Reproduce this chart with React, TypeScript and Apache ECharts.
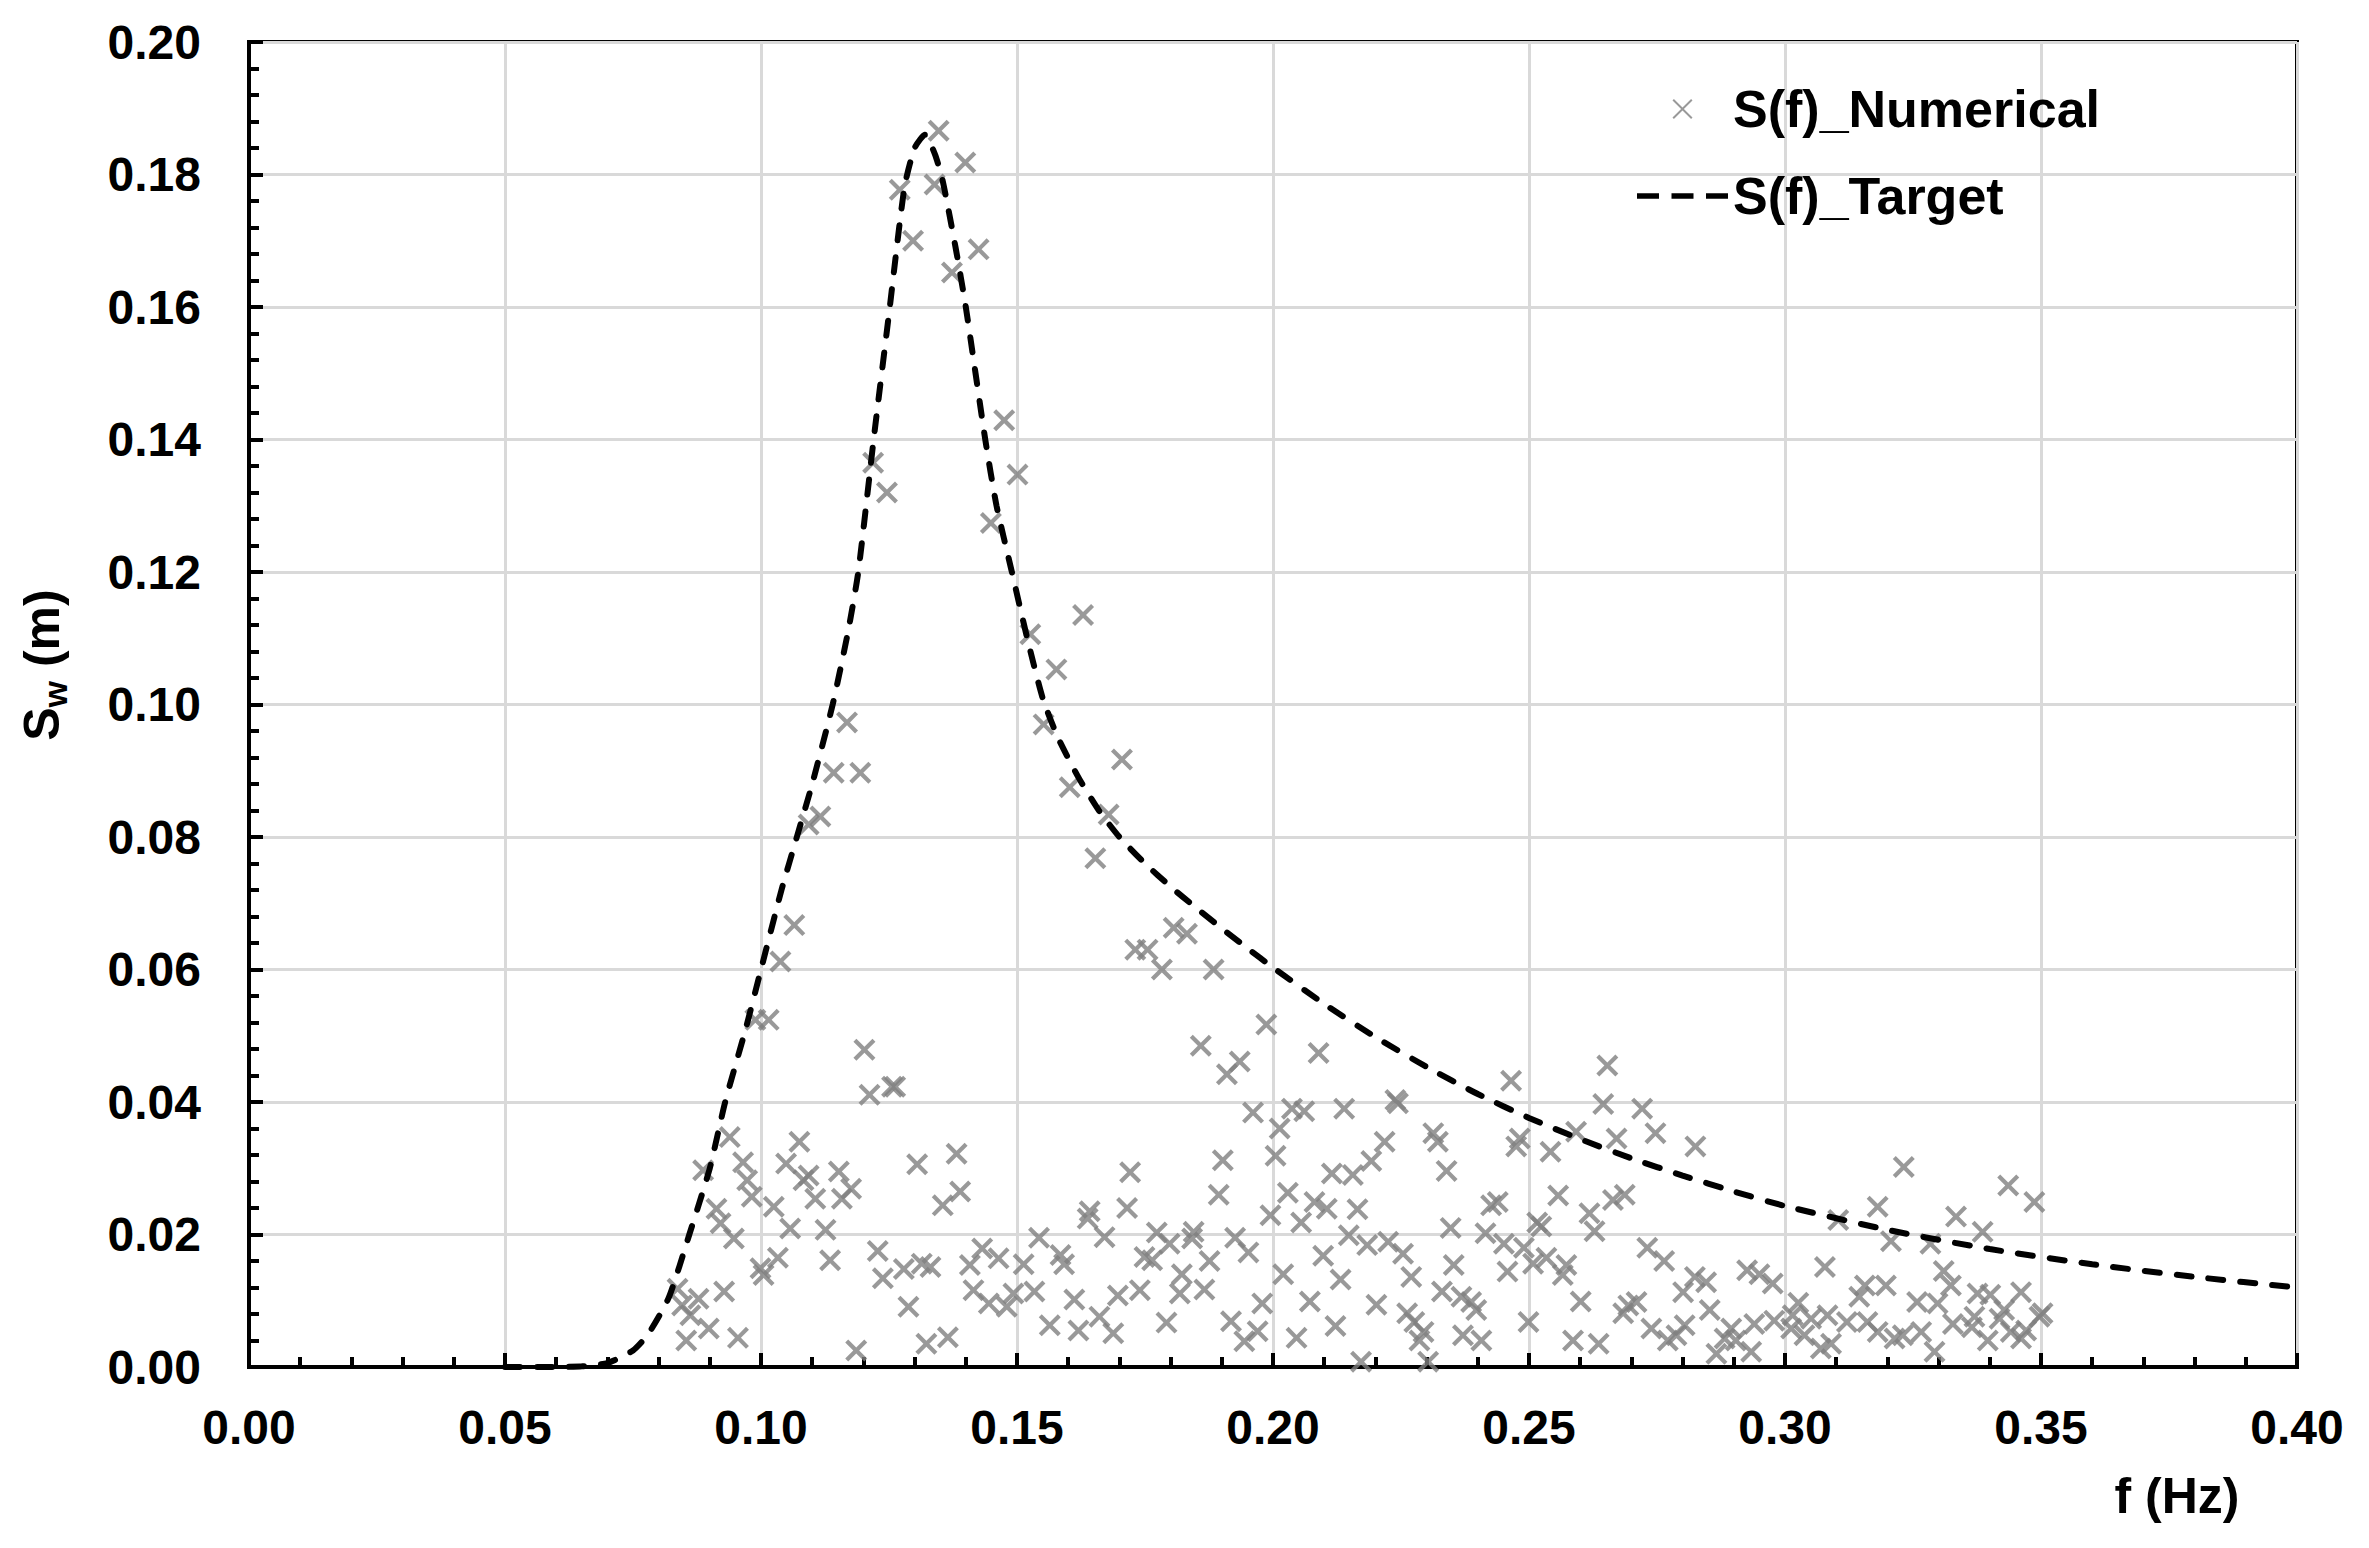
import React, { useEffect, useRef } from 'react';
import * as echarts from 'echarts';

const FONT = '"Liberation Sans", Arial, Helvetica, sans-serif';

// X axis (frequency, Hz) and Y axis (S_w, m) ranges / tick steps
const xRange = [0, 0.4];
const xStep = 0.05;
const yRange = [0, 0.2];
const yStep = 0.02;

const seriesNames = ['S(f)_Numerical', 'S(f)_Target'];

// S(f)_Target (dashed curve)
const targetF = [0.05, 0.06, 0.065, 0.07, 0.075, 0.078, 0.082, 0.086, 0.09, 0.093, 0.097, 0.1, 0.104, 0.107, 0.11, 0.114, 0.117, 0.119, 0.122, 0.125, 0.128, 0.13, 0.132, 0.134, 0.1355, 0.138, 0.14, 0.1438, 0.146, 0.149, 0.152, 0.155, 0.158, 0.162, 0.166, 0.17, 0.175, 0.18, 0.185, 0.19, 0.195, 0.2, 0.21, 0.22, 0.23, 0.24, 0.25, 0.26, 0.27, 0.28, 0.29, 0.3, 0.32, 0.34, 0.36, 0.38, 0.4];
const targetS = [0, 0, 0.0001, 0.0006, 0.0025, 0.005, 0.0105, 0.02, 0.03, 0.04, 0.051, 0.06, 0.072, 0.08, 0.088, 0.1, 0.111, 0.12, 0.14, 0.159, 0.178, 0.184, 0.186, 0.183, 0.179, 0.169, 0.16, 0.14, 0.13, 0.12, 0.11, 0.101, 0.095, 0.089, 0.084, 0.08, 0.076, 0.0725, 0.0693, 0.0662, 0.0632, 0.0603, 0.0548, 0.0498, 0.0453, 0.0412, 0.0376, 0.0344, 0.0315, 0.0289, 0.0265, 0.0243, 0.0207, 0.0178, 0.0155, 0.0136, 0.012];

// S(f)_Numerical scatter points: frequency values
const numericalF = [
  0.1347, 0.1399, 0.1271, 0.1339, 0.1297, 0.1425, 0.1373, 0.1475, 0.1219, 0.1501, 0.1246,
  0.1449, 0.1168, 0.1142, 0.1194, 0.1116, 0.1093, 0.1065, 0.1038,
  0.1629, 0.1526, 0.1577, 0.1552, 0.1705, 0.1603, 0.1679, 0.1653, 0.1806, 0.1832, 0.1731, 0.1755,
  0.0989, 0.1015, 0.1202, 0.1212, 0.1256, 0.1262, 0.0939, 0.1075, 0.0887, 0.0965, 0.1049, 0.0973, 0.1093, 0.1083, 0.1152, 0.0982, 0.1106, 0.1158, 0.1176, 0.1025, 0.0913, 0.0921, 0.0947, 0.1057, 0.1126, 0.1305, 0.1382, 0.1389, 0.1355, 0.1033, 0.0999, 0.1005, 0.1135, 0.1228, 0.1238, 0.1279, 0.1314, 0.1331, 0.1408, 0.1432, 0.1464, 0.1415, 0.1445, 0.0837, 0.0878, 0.0846, 0.0862, 0.0928, 0.0898, 0.0854, 0.0955, 0.1288, 0.1186, 0.1323, 0.1365,
  0.1783, 0.1884, 0.1987, 0.1859, 0.1935, 0.191, 0.2089, 0.1961, 0.2037, 0.2061, 0.2139, 0.2013, 0.1902, 0.2005, 0.1721, 0.1894, 0.2115, 0.2156, 0.2029, 0.2081, 0.2105, 0.2165, 0.1642, 0.1638, 0.1715, 0.1995, 0.2055, 0.1543, 0.1671, 0.1773, 0.1798, 0.1845, 0.1842, 0.1926, 0.1952, 0.2148, 0.2184, 0.2098, 0.1585, 0.1592, 0.1749, 0.1764, 0.1876, 0.1822, 0.1513, 0.202, 0.2132, 0.1534, 0.1493, 0.1612, 0.1697, 0.174, 0.1818, 0.1866, 0.1979, 0.2072, 0.148, 0.1564, 0.162, 0.1661, 0.1688, 0.1792, 0.1918, 0.1944, 0.197, 0.2046, 0.2122, 0.2172,
  0.2653, 0.2465, 0.2239, 0.2244, 0.2645, 0.2721, 0.2218, 0.2313, 0.2322, 0.2192, 0.2339, 0.2482, 0.2475, 0.2542, 0.2592, 0.2671, 0.2747, 0.2825, 0.2426, 0.2439, 0.2557, 0.2664, 0.2687, 0.2618, 0.2628, 0.2516, 0.2524, 0.2347, 0.2415, 0.2225, 0.2254, 0.2451, 0.249, 0.2731, 0.2764, 0.227, 0.2353, 0.2458, 0.2508, 0.2534, 0.2573, 0.2566, 0.2202, 0.233, 0.2368, 0.2387, 0.2397, 0.2601, 0.2262, 0.2276, 0.2294, 0.2286, 0.2371, 0.2407, 0.2499, 0.2586, 0.2636, 0.2303, 0.2684, 0.2694, 0.271, 0.2801, 0.2824, 0.2846, 0.2853, 0.2739, 0.2771, 0.2788, 0.2804, 0.2866, 0.2882,
  0.3232, 0.3436, 0.3487, 0.3181, 0.3104, 0.3334, 0.3386, 0.3207, 0.3284, 0.2926, 0.295, 0.2976, 0.3078, 0.331, 0.3324, 0.3156, 0.3197, 0.3145, 0.3461, 0.3376, 0.3401, 0.3258, 0.3298, 0.3026, 0.3428, 0.3503, 0.2895, 0.294, 0.2979, 0.3015, 0.3051, 0.3083, 0.3121, 0.3161, 0.3181, 0.323, 0.3266, 0.3328, 0.3365, 0.3419, 0.3441, 0.3471, 0.3497, 0.2934, 0.307, 0.3292, 0.3214, 0.2904, 0.3038, 0.3396, 0.3461, 0.309, 0.337, 0.3012,
];

// S(f)_Numerical scatter points: spectral values (m)
const numericalS = [
  0.1866, 0.1818, 0.1777, 0.1785, 0.17, 0.1687, 0.1652, 0.1429, 0.1365, 0.1347, 0.132,
  0.1274, 0.0973, 0.0897, 0.0897, 0.0831, 0.0819, 0.0667, 0.0612,
  0.1135, 0.1106, 0.1053, 0.097, 0.0917, 0.0875, 0.0834, 0.0768, 0.0663, 0.0654, 0.063, 0.063,
  0.0524, 0.0524, 0.0479, 0.0411, 0.0423, 0.0423, 0.0347, 0.034, 0.0297, 0.0309, 0.0307, 0.0282, 0.0289, 0.0282, 0.0295, 0.0257, 0.0254, 0.0254, 0.0269, 0.0242, 0.0239, 0.0217, 0.0194, 0.0209, 0.0207, 0.0306, 0.0322, 0.0265, 0.0244, 0.0165, 0.0149, 0.0139, 0.0161, 0.0175, 0.0134, 0.0148, 0.0156, 0.0151, 0.0154, 0.0179, 0.0164, 0.0116, 0.0096, 0.0118, 0.0103, 0.0093, 0.0078, 0.0114, 0.0058, 0.004, 0.0044, 0.0091, 0.0025, 0.0035, 0.0045,
  0.06, 0.06, 0.0517, 0.0485, 0.0461, 0.0442, 0.0474, 0.0384, 0.039, 0.0386, 0.039, 0.036, 0.0312, 0.0319, 0.0294, 0.026, 0.0292, 0.029, 0.0263, 0.0249, 0.0239, 0.0238, 0.0235, 0.0224, 0.024, 0.0229, 0.0218, 0.0195, 0.0196, 0.0203, 0.0186, 0.0204, 0.0194, 0.0195, 0.0173, 0.0199, 0.0184, 0.0168, 0.0169, 0.0155, 0.0166, 0.0161, 0.016, 0.014, 0.0155, 0.014, 0.0132, 0.0114, 0.0111, 0.0102, 0.0108, 0.0116, 0.0111, 0.0117, 0.0096, 0.0099, 0.0091, 0.0063, 0.0055, 0.0076, 0.0051, 0.0067, 0.0069, 0.0039, 0.0054, 0.0044, 0.0062, 0.0008,
  0.0455, 0.0432, 0.0403, 0.0398, 0.0397, 0.039, 0.034, 0.0353, 0.034, 0.0311, 0.0296, 0.0345, 0.0333, 0.0325, 0.0355, 0.0345, 0.0353, 0.0333, 0.0244, 0.0249, 0.0259, 0.0252, 0.026, 0.0232, 0.0205, 0.0218, 0.0212, 0.021, 0.0202, 0.0189, 0.0171, 0.0186, 0.018, 0.018, 0.016, 0.0136, 0.0154, 0.0144, 0.0156, 0.0165, 0.0154, 0.0139, 0.0094, 0.0114, 0.0106, 0.0098, 0.0086, 0.0099, 0.0081, 0.0068, 0.0053, 0.004, 0.0048, 0.004, 0.0068, 0.004, 0.0035, 0.0008, 0.0081, 0.0093, 0.0098, 0.0113, 0.0136, 0.0128, 0.0086, 0.0058, 0.004, 0.0048, 0.0063, 0.002, 0.0043,
  0.0302, 0.0274, 0.0249, 0.0242, 0.0222, 0.0227, 0.0204, 0.019, 0.0186, 0.0146, 0.014, 0.0126, 0.0151, 0.0145, 0.0123, 0.0123, 0.0123, 0.0106, 0.0113, 0.0111, 0.0109, 0.0098, 0.0096, 0.0097, 0.0086, 0.0081, 0.0058, 0.0065, 0.007, 0.0078, 0.0073, 0.0078, 0.0068, 0.0068, 0.0053, 0.0048, 0.0053, 0.0065, 0.006, 0.0073, 0.0053, 0.0055, 0.0076, 0.0023, 0.0028, 0.0023, 0.0043, 0.004, 0.0048, 0.004, 0.0043, 0.0035, 0.0076, 0.0058,
];

const CROSS = 'path://M0,1.35L1.35,0L5,3.65L8.65,0L10,1.35L6.35,5L10,8.65L8.65,10L5,6.35L1.35,10L0,8.65L3.65,5Z';
const LEGEND_CROSS = 'path://M0,10M91,10M35.5,1.4L36.9,0L45.5,8.6L54.1,0L55.5,1.4L46.9,10L55.5,18.6L54.1,20L45.5,11.4L36.9,20L35.5,18.6L44.1,10Z';
const LEGEND_DASH = 'path://M0,0M91,20M0,7.2L22,7.2L22,12.8L0,12.8ZM34.5,7.2L56.5,7.2L56.5,12.8L34.5,12.8ZM69,7.2L91,7.2L91,12.8L69,12.8Z';

export default function App() {
  const ref = useRef<HTMLDivElement>(null);

  useEffect(() => {
    if (!ref.current) return;
    const chart = echarts.init(ref.current, null, { renderer: 'svg' });

    const scatterData = numericalF.map((f, i) => [f, numericalS[i]]);
    const lineData = targetF.map((f, i) => [f, targetS[i]]);

    const axisCommon = {
      type: 'value' as const,
      axisLine: { show: true, onZero: false, lineStyle: { color: '#000', width: 4 } },
      axisTick: { show: true, inside: true, length: 14, lineStyle: { color: '#000', width: 4 } },
      minorTick: { show: true, splitNumber: 5, length: 10, lineStyle: { color: '#000', width: 4 } },
      splitLine: { show: true, lineStyle: { color: '#d9d9d9', width: 3 } },
      minorSplitLine: { show: false },
    };

    chart.setOption({
      animation: false,
      backgroundColor: '#fff',
      textStyle: { fontFamily: FONT },
      grid: {
        left: 249,
        top: 42,
        width: 2048,
        height: 1325,
        show: true,
        borderColor: '#000',
        borderWidth: 4,
        backgroundColor: 'transparent',
        containLabel: false,
        outerBoundsMode: 'none',
      },
      xAxis: {
        ...axisCommon,
        min: xRange[0],
        max: xRange[1],
        interval: xStep,
        axisLabel: {
          formatter: (v: number) => v.toFixed(2),
          fontSize: 48,
          fontWeight: 'bold',
          fontFamily: FONT,
          color: '#000',
          margin: 36,
        },
      },
      yAxis: {
        ...axisCommon,
        min: yRange[0],
        max: yRange[1],
        interval: yStep,
        axisLabel: {
          formatter: (v: number) => v.toFixed(2),
          fontSize: 48,
          fontWeight: 'bold',
          fontFamily: FONT,
          color: '#000',
          margin: 48,
        },
      },
      legend: {
        orient: 'vertical',
        left: 1632,
        top: 76,
        itemWidth: 91,
        itemHeight: 20,
        itemGap: 31,
        selectedMode: false,
        textStyle: { fontSize: 52, fontWeight: 'bold', color: '#000', fontFamily: FONT, lineHeight: 56 },
        data: [
          { name: seriesNames[0], icon: LEGEND_CROSS, itemStyle: { color: '#808080' } },
          { name: seriesNames[1], icon: LEGEND_DASH, itemStyle: { color: '#000' } },
        ],
      },
      graphic: [
        {
          type: 'text',
          x: 2177,
          y: 1496,
          style: {
            text: 'f (Hz)',
            fontSize: 50,
            fontWeight: 'bold',
            fontFamily: FONT,
            fill: '#000',
            align: 'center',
            verticalAlign: 'middle',
          },
        },
        {
          type: 'text',
          x: 42,
          y: 665,
          rotation: Math.PI / 2,
          style: {
            text: '{a|S}{b|w}{a| (m)}',
            fill: '#000',
            align: 'center',
            verticalAlign: 'middle',
            rich: {
              a: { fontSize: 50, fontWeight: 'bold', fontFamily: FONT, fill: '#000', lineHeight: 60, verticalAlign: 'middle' },
              b: { fontSize: 34, fontWeight: 'bold', fontFamily: FONT, fill: '#000', lineHeight: 34, verticalAlign: 'bottom' },
            },
          },
        },
      ],
      series: [
        {
          name: seriesNames[0],
          type: 'scatter',
          data: scatterData,
          symbol: CROSS,
          symbolSize: 22,
          itemStyle: { color: '#808080' },
          z: 2,
        },
        {
          name: seriesNames[1],
          type: 'line',
          data: lineData,
          symbol: 'none',
          showSymbol: false,
          smooth: 0.2,
          lineStyle: { color: '#000', width: 6, type: [15, 17], cap: 'round' },
          itemStyle: { color: '#000' },
          z: 3,
        },
      ],
    });

    return () => chart.dispose();
  }, []);

  return (
    <div
      ref={ref}
      style={{ position: 'absolute', left: 0, top: 0, width: 2369, height: 1548, background: '#fff' }}
    />
  );
}
